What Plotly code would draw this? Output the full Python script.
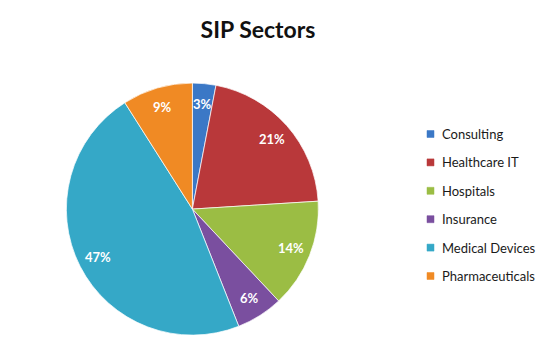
import math
import plotly.graph_objects as go

categories = ["Consulting", "Healthcare IT", "Hospitals", "Insurance", "Medical Devices", "Pharmaceuticals"]
values = [3, 21, 14, 6, 47, 9]
colors = ["#3b78c6", "#b9383a", "#9bbd44", "#7a4f9f", "#35a8c7", "#f08a24"]
title_text = "SIP Sectors"

W, H = 556, 352
dom_x = [0.117, 0.575]
dom_y = [0.048, 0.764]

fig = go.Figure()
fig.add_trace(go.Pie(
    labels=categories, values=values, sort=False, direction="clockwise", rotation=0,
    marker=dict(colors=colors, line=dict(color="rgba(255,255,255,0.7)", width=1)),
    textinfo="none",
    domain=dict(x=dom_x, y=dom_y),
    showlegend=False, hoverinfo="label+percent",
))

# pie geometry (pixels) to place Excel-style data labels
cx = (dom_x[0] + dom_x[1]) / 2 * W
cy = (1 - (dom_y[0] + dom_y[1]) / 2) * H
radius = min((dom_x[1] - dom_x[0]) * W, (dom_y[1] - dom_y[0]) * H) / 2
total = sum(values)
annotations = []
cum = 0
for v in values:
    mid = (cum + v / 2) / total * 2 * math.pi
    cum += v
    px = cx + math.sin(mid) * radius * 0.84
    py = cy - math.cos(mid) * radius * 0.84
    annotations.append(dict(text=f"{round(v / total * 100)}%", xref="paper", yref="paper",
                            x=px / W, y=1 - py / H, xanchor="center", yanchor="middle",
                            showarrow=False,
                            font=dict(family="Lato", size=13, color="white", weight="bold")))

# legend drawn manually
x_txt = 440 / W
y0 = 134
dy = 28.4
shapes = []
for i, (c, col) in enumerate(zip(categories, colors)):
    yc = y0 + i * dy
    shapes.append(dict(type="rect", xref="paper", yref="paper",
                       x0=427 / W, x1=434 / W,
                       y0=1 - (yc + 3.5) / H, y1=1 - (yc - 3.5) / H,
                       fillcolor=col, line=dict(color=col, width=0.5)))
    annotations.append(dict(text=c, xref="paper", yref="paper", x=x_txt, y=1 - yc / H,
                            xanchor="left", yanchor="middle", showarrow=False,
                            font=dict(family="Lato", size=13, color="#1a1a1a")))

fig.update_layout(
    width=W, height=H, margin=dict(l=0, r=0, t=0, b=0),
    paper_bgcolor="white", plot_bgcolor="white",
    title=dict(text=title_text, x=258 / W, xanchor="center", y=1 - 30 / H, yanchor="middle",
               font=dict(family="Lato", size=23, color="#111111", weight="bold")),
    shapes=shapes, annotations=annotations,
)
fig.write_html("out.html")
